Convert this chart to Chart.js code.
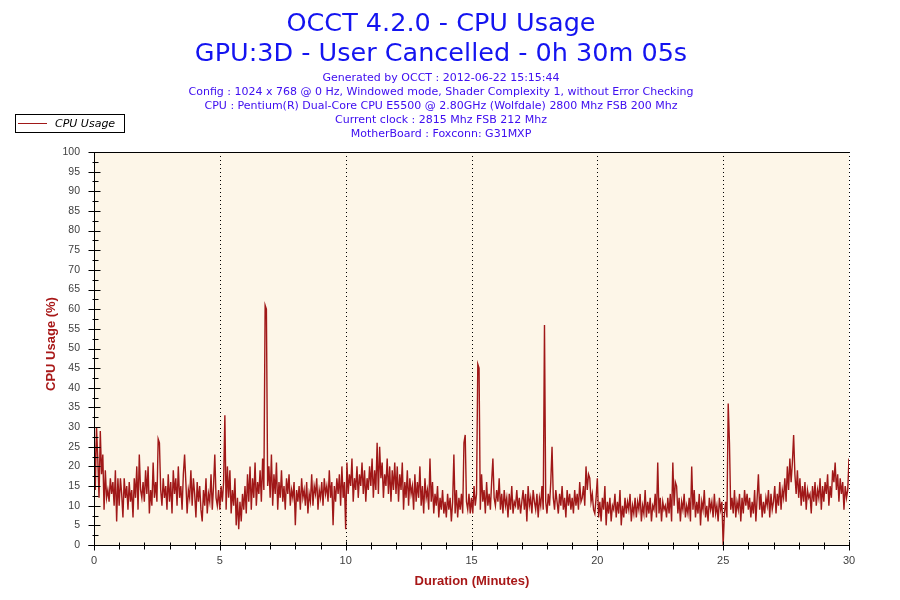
<!DOCTYPE html>
<html><head><meta charset="utf-8">
<script src="https://cdn.jsdelivr.net/npm/chart.js@4.4.0/dist/chart.umd.min.js"></script>
<style>html,body{margin:0;padding:0;background:#fff;}#wrap{width:900px;height:600px;}</style>
</head><body><div id="wrap"><canvas id="c" width="900" height="600"></canvas></div>
<script>
const titleLines = ["OCCT 4.2.0 - CPU Usage", "GPU:3D - User Cancelled - 0h 30m 05s"];
const subtitleLines = [
  "Generated by OCCT : 2012-06-22 15:15:44",
  "Config : 1024 x 768 @ 0 Hz, Windowed mode, Shader Complexity 1, without Error Checking",
  "CPU : Pentium(R) Dual-Core CPU E5500 @ 2.80GHz (Wolfdale) 2800 Mhz FSB 200 Mhz",
  "Current clock : 2815 Mhz FSB 212 Mhz",
  "MotherBoard : Foxconn: G31MXP"
];
const seriesName = "CPU Usage";
const xAxisTitle = "Duration (Minutes)";
const yAxisTitle = "CPU Usage (%)";
const xTickValues = [0, 5, 10, 15, 20, 25, 30];
const yTickValues = [0,5,10,15,20,25,30,35,40,45,50,55,60,65,70,75,80,85,90,95,100];
const sampleStepMinutes = 0.05; // one reading every 3 s

// CPU usage (%) readings, 3-second samples
const usage00to05 = [
  31,14,30,22,12,29,18,23,9,19,12,14,11,17,13,16,10,19,6,17,
  10,17,13,7,17,12,15,9,16,11,14,7,17,12,20,9,23,14,12,16,
  11,19,13,20,8,14,10,21,12,16,11,27,26,14,10,17,12,15,9,18,
  11,16,8,19,13,17,10,20,12,15,9,18,23,16,8,14,12,19,10,17,
  13,7,16,11,15,9,6,14,10,17,8,13,11,18,9,15,23,12,10,14
];
const usage05to10 = [
  9,15,11,16,33,9,20,12,19,8,14,10,17,5,12,4,11,6,13,9,
  15,8,18,11,20,9,17,12,21,10,16,13,19,11,22,14,61,60,15,20,
  12,23,10,18,13,21,9,16,12,19,11,15,9,17,13,18,10,14,12,16,
  5,14,11,15,9,17,12,14,10,16,8,13,11,18,10,15,13,17,9,14,
  12,16,10,17,13,15,11,19,12,16,5,15,11,17,13,18,10,20,12,16
];
const usage10to15 = [
  4,21,13,18,15,22,11,17,14,20,12,18,15,21,13,19,11,17,14,20,
  15,22,12,19,14,26,13,25,17,21,12,18,15,22,13,20,11,19,14,21,
  13,20,11,18,14,21,9,16,12,19,10,17,13,15,9,18,11,16,12,20,
  10,15,8,17,12,14,9,22,11,16,8,13,10,15,7,12,9,14,8,11,
  7,13,9,12,6,11,23,8,14,7,12,9,13,8,26,28,11,9,13,8
];
const usage15to20 = [
  12,8,15,10,13,46,45,9,18,11,14,8,16,10,13,9,16,22,12,10,
  14,11,17,9,13,8,14,10,12,7,13,9,15,8,11,10,14,9,12,8,
  11,14,9,13,6,15,10,12,8,14,11,9,13,7,12,10,15,9,56,11,
  8,13,10,16,25,12,9,14,11,8,13,10,15,9,12,7,14,10,13,9,
  12,8,14,10,13,9,16,11,12,15,10,20,14,18,17,11,13,9,8,12
];
const usage20to25 = [
  17,7,11,6,12,9,15,5,11,8,12,6,10,9,13,7,11,8,14,5,
  10,7,12,8,11,9,13,6,10,8,12,7,11,9,13,6,10,8,14,7,
  11,8,12,6,10,9,13,7,21,8,12,6,11,9,10,7,12,8,13,6,
  21,10,16,15,8,12,6,11,9,13,7,10,8,12,6,20,9,14,7,11,
  8,13,5,11,9,14,7,10,6,12,9,11,7,13,8,10,6,12,9,11
];
const usage25to30 = [
  0,8,11,7,36,26,9,12,8,14,7,11,9,13,6,12,8,14,10,13,
  9,12,7,11,8,14,6,12,18,9,13,7,11,8,12,10,14,7,13,9,
  11,15,8,13,10,16,9,14,12,17,11,20,14,22,16,21,28,18,13,19,
  12,17,10,15,11,16,9,14,12,13,8,15,11,16,10,14,12,17,9,15,
  11,16,13,18,10,15,12,19,16,21,14,18,11,17,13,16,9,15,12,14,
  22
];

const usage = [].concat(usage00to05, usage05to10, usage10to15, usage15to20, usage20to25, usage25to30);
const points = usage.map((v, i) => ({ x: i * sampleStepMinutes, y: v }));

const PLOT_BG = "#fdf6e8";
const LINE_COLOR = "#a01818";
const AXIS_TITLE_COLOR = "#a81818";
const TICK_COLOR = "#404040";
const TEXT_CENTER_X = 441;

const occtPlugin = {
  id: "occt",
  beforeDatasetsDraw(chart) {
    const { ctx, chartArea: a, scales } = chart;
    ctx.save();
    ctx.fillStyle = PLOT_BG;
    ctx.fillRect(a.left, a.top, a.right - a.left, a.bottom - a.top);
    ctx.strokeStyle = "#000";
    ctx.lineWidth = 1;
    ctx.setLineDash([1, 3]);
    xTickValues.forEach(v => {
      if (v === 0) return;
      const x = Math.round(scales.x.getPixelForValue(v)) + 0.5;
      ctx.beginPath();
      ctx.moveTo(x, a.top);
      ctx.lineTo(x, a.bottom);
      ctx.stroke();
    });
    ctx.restore();
  },
  afterDatasetsDraw(chart) {
    const { ctx, chartArea: a, scales } = chart;
    ctx.save();
    ctx.strokeStyle = "#000";
    ctx.lineWidth = 1;
    ctx.setLineDash([]);
    const L = Math.round(a.left) + 0.5, B = Math.round(a.bottom) + 0.5, T = Math.round(a.top) + 0.5, R = Math.round(a.right) + 0.5;
    ctx.beginPath();
    ctx.moveTo(L, T); ctx.lineTo(R, T);
    ctx.moveTo(L, T); ctx.lineTo(L, B);
    ctx.moveTo(L - 6, B); ctx.lineTo(R, B);
    ctx.stroke();
    ctx.beginPath();
    yTickValues.forEach((v, i) => {
      const y = Math.round(scales.y.getPixelForValue(v)) + 0.5;
      ctx.moveTo(L - 6, y); ctx.lineTo(L + 6, y);
      if (i < yTickValues.length - 1) {
        const mv = (v + yTickValues[i + 1]) / 2;
        const my = Math.round(scales.y.getPixelForValue(mv)) + 0.5;
        ctx.moveTo(L - 2, my); ctx.lineTo(L + 4, my);
      }
    });
    xTickValues.forEach((v, i) => {
      const x = Math.round(scales.x.getPixelForValue(v)) + 0.5;
      ctx.moveTo(x, B - 4); ctx.lineTo(x, B + 5);
      if (i < xTickValues.length - 1) {
        for (let k = 1; k < 5; k++) {
          const mx = Math.round(scales.x.getPixelForValue(v + k)) + 0.5;
          ctx.moveTo(mx, B - 3); ctx.lineTo(mx, B + 4);
        }
      }
    });
    ctx.stroke();
    ctx.restore();
  },
  afterDraw(chart) {
    const { ctx, chartArea: a } = chart;
    ctx.save();
    ctx.textAlign = "center";
    ctx.textBaseline = "alphabetic";
    ctx.fillStyle = "#1414f0";
    ctx.font = "25.5px 'DejaVu Sans'";
    ctx.fillText(titleLines[0], TEXT_CENTER_X, 31);
    ctx.fillText(titleLines[1], TEXT_CENTER_X, 61);
    ctx.fillStyle = "#4010f0";
    ctx.font = "11px 'DejaVu Sans'";
    subtitleLines.forEach((s, i) => ctx.fillText(s, TEXT_CENTER_X, 81 + i * 14));
    // legend
    ctx.strokeStyle = "#000";
    ctx.lineWidth = 1;
    ctx.strokeRect(15.5, 114.5, 109, 18);
    ctx.strokeStyle = LINE_COLOR;
    ctx.beginPath();
    ctx.moveTo(18, 123.5); ctx.lineTo(47, 123.5);
    ctx.stroke();
    ctx.fillStyle = "#000";
    ctx.textAlign = "left";
    ctx.font = "italic 11px 'DejaVu Sans'";
    ctx.fillText(seriesName, 55, 127);
    // axis titles
    ctx.fillStyle = AXIS_TITLE_COLOR;
    ctx.font = "bold 13px 'Liberation Sans'";
    ctx.textAlign = "center";
    ctx.fillText(xAxisTitle, 472, 585);
    ctx.translate(55, 344);
    ctx.rotate(-Math.PI / 2);
    ctx.fillText(yAxisTitle, 0, 0);
    ctx.restore();
  }
};

new Chart(document.getElementById("c"), {
  type: "line",
  data: {
    datasets: [{
      label: seriesName,
      data: points,
      borderColor: LINE_COLOR,
      backgroundColor: LINE_COLOR,
      borderWidth: 1.4,
      pointRadius: 0,
      tension: 0,
      fill: false
    }]
  },
  options: {
    responsive: false,
    animation: false,
    devicePixelRatio: 1,
    layout: { padding: { left: 0, right: 51, top: 152, bottom: 0 } },
    plugins: { legend: { display: false }, title: { display: false }, tooltip: { enabled: false } },
    scales: {
      x: {
        type: "linear", min: 0, max: 30,
        afterBuildTicks: s => { s.ticks = xTickValues.map(v => ({ value: v })); },
        ticks: { color: TICK_COLOR, font: { family: "'Liberation Sans'", size: 11 }, padding: 9, maxRotation: 0 },
        grid: { display: false, drawTicks: false },
        border: { display: false },
        afterFit: s => { s.height = 55; }
      },
      y: {
        min: 0, max: 100,
        afterBuildTicks: s => { s.ticks = yTickValues.map(v => ({ value: v })); },
        ticks: { color: TICK_COLOR, font: { family: "'Liberation Sans'", size: 10.5 }, padding: 14 },
        grid: { display: false, drawTicks: false },
        border: { display: false },
        afterFit: s => { s.width = 94; }
      }
    }
  },
  plugins: [occtPlugin]
});
</script></body></html>
